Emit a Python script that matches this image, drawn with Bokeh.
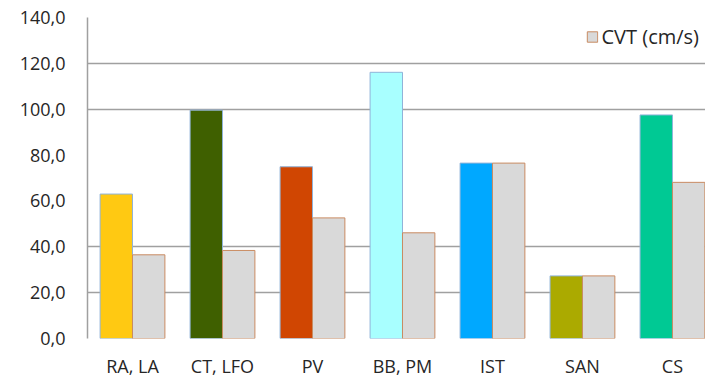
import numpy as np
from bokeh.plotting import figure
from bokeh.models import ColumnDataSource, Range1d, FixedTicker, Legend, LegendItem
from bokeh.embed import file_html
from bokeh.resources import INLINE

# Data
categories = ["RA, LA", "CT, LFO", "PV", "BB, PM", "IST", "SAN", "CS"]
site_values = [63.0, 99.6, 74.9, 116.1, 76.5, 27.3, 97.5]
cvt_values = [36.5, 38.4, 52.6, 46.1, 76.5, 27.3, 68.1]
site_colors = ["#FFC912", "#3F6000", "#D04602", "#A8FFFF", "#00A8FF", "#ABAA00", "#00C994"]
y_ticks = [0, 20, 40, 60, 80, 100, 120, 140]
y_tick_labels = ["0,0", "20,0", "40,0", "60,0", "80,0", "100,0", "120,0", "140,0"]
grid_values = [20, 40, 100, 120, 140]

FONT = "Open Sans"
FONT_SIZE = "18px"
TEXT = "#262626"

centers = np.arange(len(categories)) + 0.5
bar_w = 0.36
offset = 0.18

src_site = ColumnDataSource(dict(x=centers - offset, top=site_values, color=site_colors))
src_cvt = ColumnDataSource(dict(x=centers + offset, top=cvt_values))

p = figure(width=705, height=380, output_backend="svg", toolbar_location=None,
           x_range=Range1d(0, 6.867), y_range=Range1d(0, 140),
           min_border_left=87, min_border_right=0, min_border_top=17, min_border_bottom=41)
p.outline_line_color = None
p.background_fill_color = "white"
p.border_fill_color = "white"

p.vbar(x="x", top="top", width=bar_w, source=src_site, fill_color="color",
       line_color="#8FB3D9", line_width=1)
r_cvt = p.vbar(x="x", top="top", width=bar_w, source=src_cvt, fill_color="#D9D9D9",
               line_color="#C98B62", line_width=1)

# grid
p.xgrid.grid_line_color = None
p.ygrid.ticker = FixedTicker(ticks=grid_values)
p.ygrid.grid_line_color = "#A0A0A0"
p.ygrid.grid_line_width = 1.5

# y axis
p.yaxis.ticker = FixedTicker(ticks=y_ticks)
p.yaxis.major_label_overrides = {t: lab for t, lab in zip(y_ticks, y_tick_labels)}
p.yaxis.axis_line_color = "#A0A0A0"
p.yaxis.axis_line_width = 1.5
p.yaxis.major_tick_line_color = None
p.yaxis.minor_tick_line_color = None
p.yaxis.major_tick_in = 0
p.yaxis.major_tick_out = 0
p.yaxis.major_label_standoff = 22
p.yaxis.major_label_text_font = FONT
p.yaxis.major_label_text_font_size = FONT_SIZE
p.yaxis.major_label_text_color = TEXT

# x axis
p.xaxis.ticker = FixedTicker(ticks=list(centers))
p.xaxis.major_label_overrides = {float(c): lab for c, lab in zip(centers, categories)}
p.xaxis.axis_line_color = None
p.xaxis.major_tick_line_color = None
p.xaxis.minor_tick_line_color = None
p.xaxis.major_tick_in = 0
p.xaxis.major_tick_out = 0
p.xaxis.major_label_standoff = 15
p.xaxis.major_label_text_font = FONT
p.xaxis.major_label_text_font_size = FONT_SIZE
p.xaxis.major_label_text_color = TEXT

legend = Legend(items=[LegendItem(label="CVT (cm/s)", renderers=[r_cvt])],
                location="top_right", border_line_color=None, background_fill_alpha=0,
                label_text_font=FONT, label_text_font_size="20px", label_text_color=TEXT,
                glyph_width=13, glyph_height=13, label_standoff=3, margin=6, padding=3,
                spacing=0)
p.add_layout(legend)

open("out.html", "w").write(file_html(p, INLINE))
